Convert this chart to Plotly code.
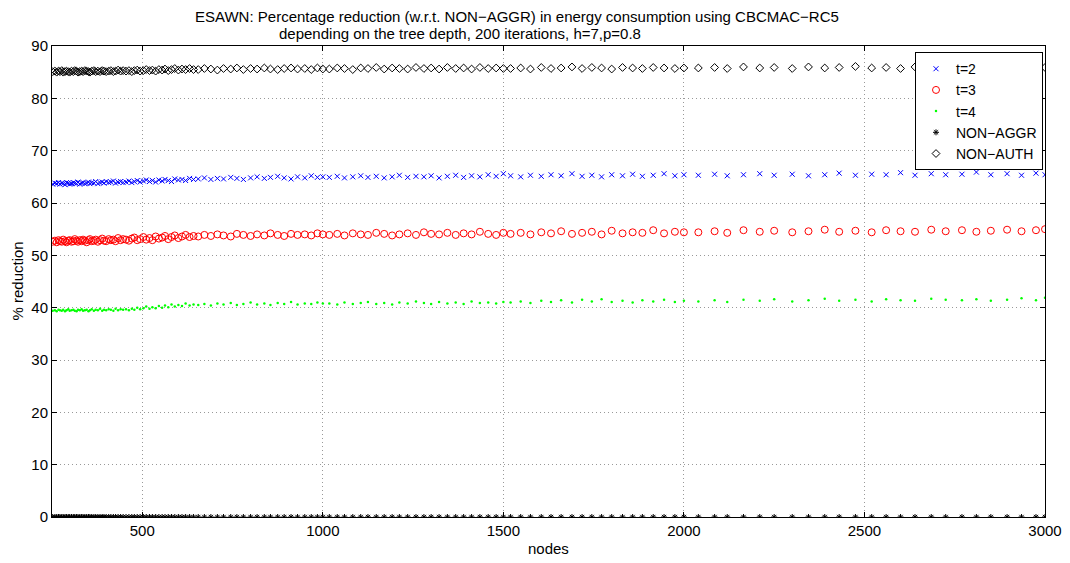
import plotly.graph_objects as go

nodes = [252,258,263,268,272,277,281,286,290,295,299,304,309,313,318,322,327,332,336,341,346,351,355,360,366,371,377,383,389,394,400,407,413,420,426,433,440,447,
         455,463,471,478,486,494,503,511,520,528,537,546,555,563,572,581,590,600,610,620,631,642,
         655,672,690,708,725,745,762,780,800,818,838,855,875,893,912,930,950,968,985,1000,
         1018,1040,1060,1083,1105,1125,1148,1170,1192,1212,1235,1258,1280,1300,1322,1345,1368,1390,1412,1435,1458,1480,1500,
         1520,1548,1575,1605,1632,1660,1690,1718,1745,1772,1800,1830,1858,1885,1915,1945,1975,2000,
         2040,2085,2120,2165,2210,2250,2300,2345,2390,2430,2475,2520,2560,2600,2640,2685,2725,2770,2810,2850,2895,2935,2975,3000]

t2 = [63.6,63.8,63.7,63.9,63.6,63.8,63.7,63.5,63.9,63.8,63.6,63.7,63.9,63.8,63.7,64.0,63.6,63.8,63.9,63.7,63.8,64.0,63.7,63.9,63.8,64.1,63.7,63.9,64.0,63.8,64.1,63.9,64.0,64.2,63.8,64.0,64.1,63.9,
      64.0,64.2,63.9,64.1,64.3,64.0,64.2,64.4,64.1,64.3,64.0,64.4,64.2,64.5,64.3,64.1,64.6,64.4,64.5,64.3,64.7,64.5,
      64.6,64.8,64.5,64.7,64.6,64.9,64.7,64.5,64.8,65.0,64.7,64.9,65.1,64.8,64.6,65.0,64.8,65.2,64.9,65.0,
      64.9,65.1,64.8,65.0,65.2,64.9,65.1,64.8,65.0,65.3,64.9,65.1,65.0,65.2,64.8,65.1,65.3,64.9,65.2,65.0,65.4,65.1,65.6,
      65.2,65.0,65.3,65.1,65.4,65.2,65.6,65.1,65.3,65.0,65.4,65.2,65.5,65.1,65.3,65.6,65.2,65.4,
      65.3,65.5,65.2,65.4,65.6,65.3,65.5,65.2,65.4,65.7,65.3,65.5,65.4,65.8,65.3,65.6,65.4,65.5,65.9,65.4,65.6,65.3,65.7,65.4]

t3 = [52.6,52.8,52.5,52.9,52.7,52.6,53.0,52.7,52.5,52.8,52.9,52.6,52.7,53.1,52.8,52.6,52.9,52.7,53.0,52.8,52.5,52.9,53.1,52.7,52.8,53.0,52.6,52.9,53.2,52.8,52.7,53.1,52.9,53.0,52.7,53.3,52.9,53.1,
      53.0,52.8,53.2,53.4,52.9,53.1,53.5,53.0,53.3,52.9,53.6,53.2,53.4,53.7,53.1,53.5,53.8,53.3,53.6,53.9,53.5,53.7,
      53.6,53.9,53.7,54.0,53.8,53.6,54.1,53.9,53.7,54.0,53.8,54.2,53.9,53.7,54.1,53.9,54.0,53.8,54.2,54.0,
      53.9,54.1,53.8,54.2,54.0,53.9,54.3,54.1,53.8,54.0,54.2,53.9,54.4,54.1,54.0,54.3,53.9,54.2,54.0,54.5,54.1,53.9,54.3,
      54.1,54.3,54.0,54.4,54.2,54.6,54.1,54.3,54.5,54.0,54.7,54.2,54.4,54.3,54.8,54.2,54.5,54.4,
      54.4,54.6,54.3,54.8,54.5,54.7,54.4,54.6,54.9,54.5,54.7,54.4,54.8,54.6,54.5,54.9,54.6,54.8,54.5,54.7,54.9,54.6,54.8,55.0]

t4 = [39.4,39.5,39.3,39.6,39.5,39.4,39.6,39.3,39.5,39.7,39.4,39.5,39.6,39.4,39.3,39.6,39.5,39.7,39.4,39.5,39.6,39.3,39.5,39.7,39.4,39.6,39.5,39.8,39.4,39.6,39.5,39.7,39.6,39.4,39.8,39.5,39.7,39.6,
      39.7,39.5,39.8,39.6,40.0,39.7,39.9,40.2,39.8,40.1,39.9,40.3,40.0,40.4,40.1,40.6,40.2,40.5,40.3,40.8,40.4,40.6,
      40.5,40.7,40.4,40.8,40.6,40.9,40.5,40.7,41.0,40.6,40.8,40.5,40.9,40.7,41.1,40.6,40.8,40.7,41.0,40.8,
      40.8,40.6,41.0,40.7,40.9,41.1,40.7,40.9,40.6,41.0,40.8,41.2,40.9,40.7,41.1,40.8,41.0,40.7,41.2,40.9,41.0,40.8,41.1,
      41.0,41.2,40.9,41.3,41.1,41.4,41.0,41.5,41.2,41.6,41.1,41.3,41.0,41.4,41.2,41.5,41.1,41.3,
      41.2,41.4,41.1,41.5,41.3,41.6,41.2,41.4,41.7,41.3,41.5,41.2,41.6,41.4,41.3,41.7,41.5,41.4,41.6,41.3,41.5,41.8,41.4,41.9]

non_aggr = [0.0 for _ in nodes]

non_auth = [85.1,85.2,85.0,85.2,85.1,85.3,85.0,85.1,85.2,85.1,85.0,85.2,85.1,85.3,85.2,85.0,85.1,85.2,85.1,85.3,85.2,85.1,85.0,85.2,85.3,85.1,85.2,85.1,85.3,85.2,85.1,85.2,85.3,85.1,85.2,85.4,85.2,85.3,
            85.2,85.3,85.1,85.3,85.4,85.2,85.3,85.5,85.3,85.4,85.2,85.5,85.4,85.6,85.3,85.5,85.7,85.4,85.6,85.5,85.7,85.5,
            85.5,85.7,85.6,85.4,85.7,85.6,85.8,85.5,85.7,85.6,85.8,85.6,85.5,85.7,85.8,85.6,85.7,85.5,85.8,85.6,
            85.6,85.8,85.7,85.5,85.8,85.7,85.9,85.6,85.8,85.7,85.6,85.9,85.7,85.8,85.6,85.9,85.7,85.8,85.6,85.9,85.7,85.8,85.7,
            85.7,85.8,85.6,85.9,85.7,85.8,86.0,85.7,85.9,85.8,85.6,85.9,85.8,85.7,85.9,85.8,85.7,85.8,
            85.8,85.9,85.7,86.0,85.8,85.9,85.7,86.0,85.8,85.9,86.1,85.8,85.9,85.7,86.0,85.9,85.8,86.0,85.9,85.8,86.0,85.9,85.8,85.9]

x_ticks = [500, 1000, 1500, 2000, 2500, 3000]
y_ticks = [0, 10, 20, 30, 40, 50, 60, 70, 80, 90]

FONT = "Liberation Sans, Arial, Helvetica, sans-serif"

fig = go.Figure()
fig.add_trace(go.Scatter(x=nodes, y=t2, mode="markers", name="t=2",
                         marker=dict(symbol="x-thin-open", size=5, color="#0000ff",
                                     line=dict(width=1, color="#0000ff"))))
fig.add_trace(go.Scatter(x=nodes, y=t3, mode="markers", name="t=3",
                         marker=dict(symbol="circle-open", size=7, color="#ff0000",
                                     line=dict(width=1, color="#ff0000"))))
fig.add_trace(go.Scatter(x=nodes, y=t4, mode="markers", name="t=4",
                         marker=dict(symbol="circle", size=2.5, color="#00ff00")))
fig.add_trace(go.Scatter(x=nodes, y=non_aggr, mode="markers", name="NON\u2212AGGR",
                         marker=dict(symbol="asterisk-open", size=5, color="#000000",
                                     line=dict(width=1, color="#000000"))))
fig.add_trace(go.Scatter(x=nodes, y=non_auth, mode="markers", name="NON\u2212AUTH",
                         marker=dict(symbol="diamond-open", size=6, color="#000000",
                                     line=dict(width=1, color="#000000"))))

axis_common = dict(
    showline=True, linecolor="black", linewidth=1, mirror="ticks",
    ticks="inside", ticklen=5, tickcolor="black",
    showgrid=True, gridcolor="#999999", griddash="1px,3px", gridwidth=1,
    zeroline=False, automargin=False,
    tickfont=dict(family=FONT, size=15, color="black"),
)

fig.update_xaxes(range=[250, 3000], tickvals=x_ticks, **axis_common)
fig.update_yaxes(range=[0, 90], tickvals=y_ticks, **axis_common)

# axis titles
fig.add_annotation(text="nodes", xref="paper", yref="paper", x=0.5, y=0, yshift=-31,
                   showarrow=False, xanchor="center", yanchor="middle",
                   font=dict(family=FONT, size=15, color="black"))
fig.add_annotation(text="% reduction", xref="paper", yref="paper", x=0, y=0.5, xshift=-35,
                   textangle=-90, showarrow=False, xanchor="center", yanchor="middle",
                   font=dict(family=FONT, size=15, color="black"))

# two-line title
fig.add_annotation(text="ESAWN: Percentage reduction (w.r.t. NON\u2212AGGR) in energy consumption using CBCMAC\u2212RC5",
                   xref="paper", yref="paper", x=0, xshift=193 - 52, y=1.0, yshift=30, showarrow=False,
                   xanchor="left", yanchor="middle",
                   font=dict(family=FONT, size=15, color="black"))
fig.add_annotation(text="depending on the tree depth, 200 iterations, h=7,p=0.8",
                   xref="paper", yref="paper", x=0, xshift=277 - 52, y=1.0, yshift=13, showarrow=False,
                   xanchor="left", yanchor="middle",
                   font=dict(family=FONT, size=15, color="black"))

# the page body has an 8px margin, so the figure is offset by 8px
fig.update_layout(
    width=1062, height=555,
    margin=dict(l=44, r=25, t=38, b=46, autoexpand=False),
    paper_bgcolor="white", plot_bgcolor="white",
    font=dict(family=FONT, size=15, color="black"),
    legend=dict(x=0.998, y=0.987, xanchor="right", yanchor="top",
                bgcolor="white", bordercolor="black", borderwidth=1,
                font=dict(family=FONT, size=14, color="black"),
                itemsizing="trace", tracegroupgap=0),
    showlegend=True,
)

fig.write_html("out.html")
